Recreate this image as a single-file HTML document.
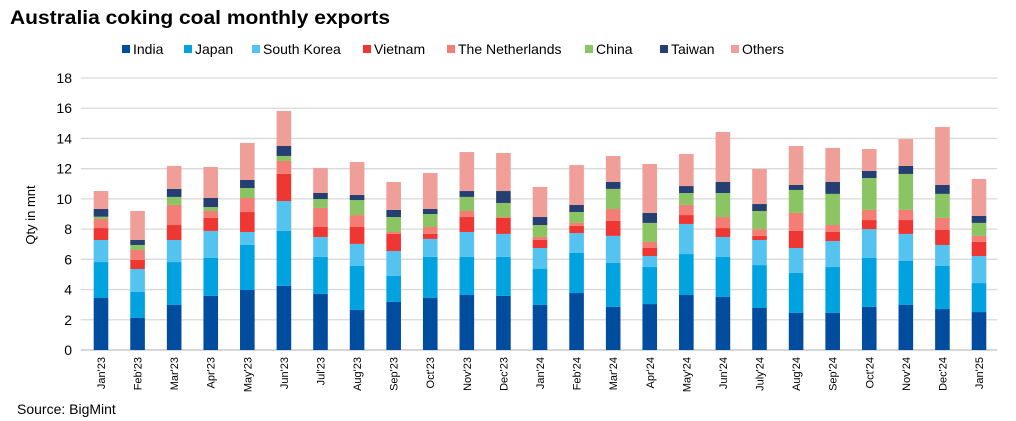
<!DOCTYPE html>
<html><head><meta charset="utf-8"><style>
body{margin:0;background:#fff;font-family:"Liberation Sans",Arial,sans-serif;}
svg{display:block}
</style></head><body>
<svg id="chart" width="1016" height="421" xmlns="http://www.w3.org/2000/svg" font-family="Liberation Sans, Arial, sans-serif">
<text x="10" y="24" font-size="19" font-weight="bold" fill="#000" textLength="380" lengthAdjust="spacingAndGlyphs">Australia coking coal monthly exports</text>
<text x="17" y="414" font-size="14" fill="#000">Source: BigMint</text>
<text transform="translate(35,215) rotate(-90)" text-anchor="middle" font-size="13" fill="#000">Qty in mnt</text>
<g id="grid"></g><g id="bars"></g><g id="axes"></g><g id="legend"></g>
</svg>
<script>
const categories=["Jan'23","Feb'23","Mar'23","Apr'23","May'23","Jun'23","Jul'23","Aug'23","Sep'23","Oct'23","Nov'23","Dec'23","Jan'24","Feb'24","Mar'24","Apr'24","May'24","Jun'24","July'24","Aug'24","Sep'24","Oct'24","Nov'24","Dec'24","Jan'25"];
const seriesNames=["India","Japan","South Korea","Vietnam","The Netherlands","China","Taiwan","Others"];
const seriesColors=["#004C9F","#00A3E0","#54C3F0","#EE3733","#F47E76","#8BC462","#263F73","#EF9E98"];
const india=[3.44,2.12,2.98,3.58,3.97,4.24,3.71,2.65,3.18,3.44,3.64,3.58,2.98,3.77,2.85,3.04,3.64,3.51,2.78,2.45,2.45,2.85,2.98,2.71,2.51];
const japan=[2.38,1.72,2.84,2.51,2.98,3.64,2.45,2.91,1.72,2.72,2.52,2.58,2.38,2.65,2.91,2.45,2.71,2.65,2.84,2.65,3.04,3.24,2.91,2.85,1.92];
const southKorea=[1.46,1.52,1.46,1.79,0.86,1.98,1.32,1.46,1.65,1.19,1.65,1.52,1.39,1.32,1.79,0.73,1.99,1.32,1.66,1.65,1.72,1.91,1.79,1.39,1.79];
const vietnam=[0.79,0.60,0.99,0.86,1.32,1.79,0.66,1.12,1.13,0.33,0.99,1.06,0.53,0.47,0.99,0.53,0.59,0.59,0.27,1.13,0.60,0.60,0.92,0.99,0.93];
const netherlands=[0.60,0.66,1.33,0.46,0.93,0.86,1.26,0.79,0.13,0.46,0.40,0.06,0.20,0.20,0.79,0.40,0.67,0.73,0.45,1.19,0.46,0.67,0.67,0.80,0.40];
const china=[0.15,0.33,0.53,0.26,0.66,0.33,0.59,0.99,0.99,0.86,0.93,0.93,0.79,0.72,1.33,1.26,0.79,1.59,1.20,1.52,2.06,2.11,2.38,1.59,0.86];
const taiwan=[0.51,0.33,0.53,0.60,0.53,0.66,0.40,0.34,0.47,0.33,0.39,0.79,0.53,0.47,0.46,0.66,0.46,0.73,0.46,0.33,0.79,0.47,0.53,0.59,0.46];
const others=[1.19,1.92,1.52,2.05,2.45,2.32,1.66,2.18,1.85,2.38,2.58,2.52,1.99,2.64,1.72,3.24,2.12,3.31,2.32,2.58,2.25,1.45,1.78,3.84,2.45];
const yTicks=[0,2,4,6,8,10,12,14,16,18];

const series=[india,japan,southKorea,vietnam,netherlands,china,taiwan,others];
const NS="http://www.w3.org/2000/svg";
const x0=82.7,x1=997.3,y0=350,y1=78,yMax=18;
const band=(x1-x0)/categories.length;
const xC=i=>x0+band*(i+0.5);
const yS=v=>y0-(v/yMax)*(y0-y1);
function mk(tag,attrs,parent){const e=document.createElementNS(NS,tag);for(const k in attrs)e.setAttribute(k,attrs[k]);parent.appendChild(e);return e;}
const grid=document.getElementById('grid'),bars=document.getElementById('bars'),axes=document.getElementById('axes'),legend=document.getElementById('legend');
yTicks.forEach(t=>{
  const l=mk('line',{x1:x0-2,x2:x1,y1:yS(t),y2:yS(t),stroke:t===0?'#bfbfbf':'#d9d9d9','stroke-width':1.3},grid);
  
  
  const tx=mk('text',{x:72,y:yS(t)+5,'text-anchor':'end','font-size':14,fill:'#000'},axes);
  tx.textContent=t;
  
  
});
categories.forEach((c,i)=>{
  let cum=0;
  series.forEach((s,k)=>{
    const v=s[i];
    const r=mk('rect',{x:xC(i)-7.3,width:14.6,y:yS(cum+v),height:yS(cum)-yS(cum+v),fill:seriesColors[k]},bars);
    
    
    cum+=v;
  });
  const t=mk('text',{transform:`translate(${xC(i)+4},357) rotate(-90)`,'text-anchor':'end','font-size':11,fill:'#000'},axes);
  t.textContent=c;
  
  
});
const legX=[122,184,252,363,447,585,660,731];
seriesNames.forEach((n,k)=>{
  const g=mk('g',{},legend);
  
  
  mk('rect',{x:legX[k],y:45,width:8,height:8,fill:seriesColors[k]},g);
  const t=mk('text',{x:legX[k]+11,y:54,'font-size':14,fill:'#000'},g);
  t.textContent=n;
});
</script>
</body></html>
